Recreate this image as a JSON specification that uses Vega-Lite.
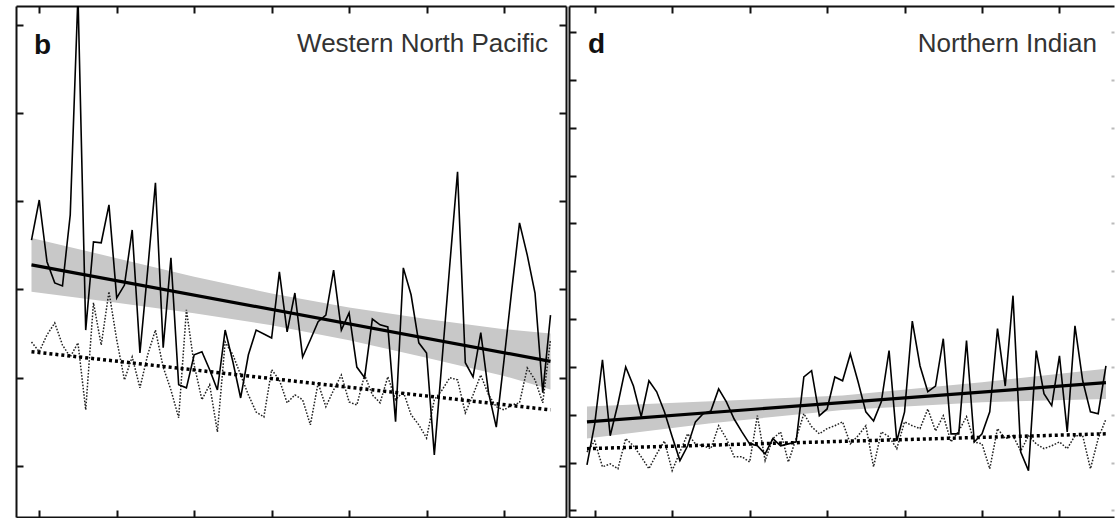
{
"$schema": "https://vega.github.io/schema/vega-lite/v6.json",
"padding": {"left": 15, "top": 5, "right": 0, "bottom": 0},
"spacing": 3,
"bounds": "flush",
"background": "white",
"datasets": {
"wnp": [
{"year":1949,"solid":19.12,"dotted":16.81},{"year":1950,"solid":20.03,"dotted":16.59},{"year":1951,"solid":18.63,"dotted":16.97},{"year":1952,"solid":18.15,"dotted":17.24},{"year":1953,"solid":18.08,"dotted":16.74},{"year":1954,"solid":19.69,"dotted":16.47},{"year":1955,"solid":24.68,"dotted":16.79},{"year":1956,"solid":17.08,"dotted":15.27},{"year":1957,"solid":19.08,"dotted":17.70},{"year":1958,"solid":19.06,"dotted":16.74},{"year":1959,"solid":19.92,"dotted":17.95},{"year":1960,"solid":17.81,"dotted":16.86},{"year":1961,"solid":18.10,"dotted":15.95},{"year":1962,"solid":19.35,"dotted":16.47},{"year":1963,"solid":16.56,"dotted":15.77},{"year":1964,"solid":18.44,"dotted":16.52},{"year":1965,"solid":20.42,"dotted":17.08},{"year":1966,"solid":16.68,"dotted":16.24},{"year":1967,"solid":18.72,"dotted":15.72},{"year":1968,"solid":15.84,"dotted":15.09},{"year":1969,"solid":15.77,"dotted":17.54},{"year":1970,"solid":16.52,"dotted":16.29},{"year":1971,"solid":16.59,"dotted":15.50},{"year":1972,"solid":16.18,"dotted":15.84},{"year":1973,"solid":15.72,"dotted":14.77},{"year":1974,"solid":17.08,"dotted":16.81},{"year":1975,"solid":16.36,"dotted":16.52},{"year":1976,"solid":15.54,"dotted":16.06},{"year":1977,"solid":16.52,"dotted":15.61},{"year":1978,"solid":17.08,"dotted":15.22},{"year":1979,"solid":16.99,"dotted":15.11},{"year":1980,"solid":16.90,"dotted":16.18},{"year":1981,"solid":18.40,"dotted":15.95},{"year":1982,"solid":17.04,"dotted":15.43},{"year":1983,"solid":17.92,"dotted":15.61},{"year":1984,"solid":16.47,"dotted":15.50},{"year":1985,"solid":16.86,"dotted":14.93},{"year":1986,"solid":17.27,"dotted":15.88},{"year":1987,"solid":17.42,"dotted":15.34},{"year":1988,"solid":18.44,"dotted":15.72},{"year":1989,"solid":17.08,"dotted":16.06},{"year":1990,"solid":17.47,"dotted":15.45},{"year":1991,"solid":16.24,"dotted":15.38},{"year":1992,"solid":16.00,"dotted":16.06},{"year":1993,"solid":17.33,"dotted":15.61},{"year":1994,"solid":17.20,"dotted":15.43},{"year":1995,"solid":17.15,"dotted":16.02},{"year":1996,"solid":15.00,"dotted":15.50},{"year":1997,"solid":18.49,"dotted":15.68},{"year":1998,"solid":17.88,"dotted":15.16},{"year":1999,"solid":16.79,"dotted":14.93},{"year":2000,"solid":16.56,"dotted":14.63},{"year":2001,"solid":14.25,"dotted":15.50},{"year":2002,"solid":16.40,"dotted":15.72},{"year":2003,"solid":18.56,"dotted":16.00},{"year":2004,"solid":20.67,"dotted":15.95},{"year":2005,"solid":16.34,"dotted":15.20},{"year":2006,"solid":16.02,"dotted":15.61},{"year":2007,"solid":17.02,"dotted":16.06},{"year":2008,"solid":15.66,"dotted":15.61},{"year":2009,"solid":14.88,"dotted":15.34},{"year":2010,"solid":16.40,"dotted":15.27},{"year":2011,"solid":17.99,"dotted":15.38},{"year":2012,"solid":19.51,"dotted":15.43},{"year":2013,"solid":18.78,"dotted":16.22},{"year":2014,"solid":17.92,"dotted":15.95},{"year":2015,"solid":15.66,"dotted":15.43},{"year":2016,"solid":17.42,"dotted":16.86}
],
"wnp_trend": [{"year":1949,"solid":18.56,"dotted":16.59},{"year":2016,"solid":16.37,"dotted":15.27}],
"wnp_band": [{"year":1949,"lo":17.95,"hi":19.17},{"year":1960,"lo":17.70,"hi":18.71},{"year":1970,"lo":17.46,"hi":18.29},{"year":1980,"lo":17.19,"hi":17.91},{"year":1990,"lo":16.85,"hi":17.59},{"year":2000,"lo":16.45,"hi":17.33},{"year":2010,"lo":16.04,"hi":17.10},{"year":2016,"lo":15.73,"hi":17.00}],
"ni": [
{"year":1949,"solid":10.95,"dotted":11.22},{"year":1950,"solid":11.81,"dotted":11.45},{"year":1951,"solid":13.15,"dotted":10.91},{"year":1952,"solid":11.56,"dotted":10.97},{"year":1953,"solid":12.23,"dotted":10.87},{"year":1954,"solid":13.00,"dotted":11.50},{"year":1955,"solid":12.60,"dotted":11.35},{"year":1956,"solid":11.96,"dotted":11.12},{"year":1957,"solid":12.71,"dotted":10.87},{"year":1958,"solid":12.48,"dotted":11.18},{"year":1959,"solid":12.06,"dotted":11.45},{"year":1960,"solid":11.54,"dotted":10.83},{"year":1961,"solid":11.04,"dotted":11.22},{"year":1962,"solid":11.35,"dotted":11.60},{"year":1963,"solid":11.85,"dotted":11.39},{"year":1964,"solid":12.02,"dotted":11.35},{"year":1965,"solid":12.08,"dotted":11.29},{"year":1966,"solid":12.54,"dotted":11.77},{"year":1967,"solid":12.27,"dotted":11.50},{"year":1968,"solid":11.91,"dotted":11.12},{"year":1969,"solid":11.64,"dotted":11.12},{"year":1970,"solid":11.39,"dotted":11.01},{"year":1971,"solid":11.35,"dotted":11.98},{"year":1972,"solid":11.18,"dotted":11.04},{"year":1973,"solid":11.50,"dotted":11.50},{"year":1974,"solid":11.35,"dotted":11.64},{"year":1975,"solid":11.39,"dotted":11.01},{"year":1976,"solid":11.43,"dotted":11.50},{"year":1977,"solid":12.79,"dotted":12.02},{"year":1978,"solid":12.92,"dotted":11.75},{"year":1979,"solid":11.98,"dotted":11.60},{"year":1980,"solid":12.12,"dotted":11.71},{"year":1981,"solid":12.79,"dotted":11.77},{"year":1982,"solid":12.71,"dotted":11.85},{"year":1983,"solid":13.27,"dotted":11.39},{"year":1984,"solid":12.69,"dotted":11.56},{"year":1985,"solid":12.06,"dotted":11.77},{"year":1986,"solid":11.87,"dotted":10.91},{"year":1987,"solid":12.27,"dotted":11.64},{"year":1988,"solid":13.34,"dotted":11.54},{"year":1989,"solid":11.45,"dotted":11.29},{"year":1990,"solid":12.06,"dotted":11.85},{"year":1991,"solid":13.96,"dotted":11.77},{"year":1992,"solid":13.02,"dotted":11.71},{"year":1993,"solid":12.48,"dotted":12.12},{"year":1994,"solid":12.60,"dotted":11.66},{"year":1995,"solid":13.59,"dotted":11.98},{"year":1996,"solid":11.60,"dotted":11.43},{"year":1997,"solid":11.60,"dotted":11.66},{"year":1998,"solid":13.55,"dotted":11.96},{"year":1999,"solid":11.43,"dotted":11.43},{"year":2000,"solid":11.60,"dotted":11.39},{"year":2001,"solid":12.06,"dotted":10.87},{"year":2002,"solid":13.80,"dotted":11.71},{"year":2003,"solid":12.60,"dotted":11.50},{"year":2004,"solid":14.49,"dotted":11.56},{"year":2005,"solid":11.22,"dotted":11.24},{"year":2006,"solid":10.83,"dotted":11.56},{"year":2007,"solid":13.34,"dotted":11.39},{"year":2008,"solid":12.44,"dotted":11.29},{"year":2009,"solid":12.19,"dotted":11.35},{"year":2010,"solid":13.23,"dotted":11.43},{"year":2011,"solid":11.64,"dotted":11.29},{"year":2012,"solid":13.86,"dotted":11.56},{"year":2013,"solid":12.71,"dotted":11.56},{"year":2014,"solid":12.06,"dotted":10.87},{"year":2015,"solid":12.02,"dotted":11.50},{"year":2016,"solid":13.02,"dotted":11.91}
],
"ni_trend": [{"year":1949,"solid":11.85,"dotted":11.29},{"year":2016,"solid":12.67,"dotted":11.60}],
"ni_band": [{"year":1949,"lo":11.50,"hi":12.17},{"year":1965,"lo":11.82,"hi":12.28},{"year":1982,"lo":12.10,"hi":12.40},{"year":2000,"lo":12.26,"hi":12.68},{"year":2016,"lo":12.33,"hi":12.96}]
},
"hconcat": [
{
"width": 550, "height": 511,
"resolve": {"axis": {"x": "independent", "y": "independent"}},
"layer": [
{"data": {"name": "wnp_band"}, "mark": {"type": "area", "color": "#c8c8c8", "opacity": 1},
 "encoding": {
  "x": {"field": "year", "type": "quantitative", "scale": {"domain": [1947, 2018], "nice": false, "zero": false}, "axis": {"orient": "bottom", "values": [1950,1960,1970,1980,1990,2000,2010]}},
  "y": {"field": "lo", "type": "quantitative", "scale": {"domain": [12.84, 24.43], "nice": false, "zero": false}, "axis": {"orient": "left", "values": [14,16,18,20,22,24]}},
  "y2": {"field": "hi"}}},
{"data": {"name": "wnp"}, "mark": {"type": "line", "color": "#222", "strokeWidth": 1.5, "strokeDash": [1.6, 1.6]},
 "encoding": {
  "x": {"field": "year", "type": "quantitative", "axis": {"orient": "top", "values": [1950,1960,1970,1980,1990,2000,2010]}},
  "y": {"field": "dotted", "type": "quantitative", "axis": {"orient": "right", "values": [14,16,18,20,22,24]}}}},
{"data": {"name": "wnp"}, "mark": {"type": "line", "color": "#000", "strokeWidth": 1.6, "clip": true},
 "encoding": {
  "x": {"field": "year", "type": "quantitative", "axis": null},
  "y": {"field": "solid", "type": "quantitative", "axis": null}}},
{"data": {"name": "wnp_trend"}, "mark": {"type": "line", "color": "#000", "strokeWidth": 3.2},
 "encoding": {
  "x": {"field": "year", "type": "quantitative", "axis": null},
  "y": {"field": "solid", "type": "quantitative", "axis": null}}},
{"data": {"name": "wnp_trend"}, "mark": {"type": "line", "color": "#000", "strokeWidth": 3.5, "strokeDash": [3, 3]},
 "encoding": {
  "x": {"field": "year", "type": "quantitative", "axis": null},
  "y": {"field": "dotted", "type": "quantitative", "axis": null}}},
{"data": {"values": [{"label": "b"}]}, "mark": {"type": "text", "align": "left", "baseline": "alphabetic", "font": "Liberation Sans", "fontSize": 28, "fontWeight": "bold", "color": "#111"},
 "encoding": {
  "x": {"datum": 1949.32, "type": "quantitative", "axis": null},
  "y": {"datum": 23.34, "type": "quantitative", "axis": null},
  "text": {"field": "label"}}},
{"data": {"values": [{"label": "Western North Pacific"}]}, "mark": {"type": "text", "align": "right", "baseline": "alphabetic", "font": "Liberation Sans", "fontSize": 26, "color": "#333"},
 "encoding": {
  "x": {"datum": 2015.68, "type": "quantitative", "axis": null},
  "y": {"datum": 23.39, "type": "quantitative", "axis": null},
  "text": {"field": "label"}}}
]
},
{
"width": 545, "height": 511,
"resolve": {"axis": {"x": "independent", "y": "independent"}},
"layer": [
{"data": {"name": "ni_band"}, "mark": {"type": "area", "color": "#c8c8c8", "opacity": 1},
 "encoding": {
  "x": {"field": "year", "type": "quantitative", "scale": {"domain": [1946.68, 2017.04], "nice": false, "zero": false}, "axis": {"orient": "bottom", "values": [1950,1960,1970,1980,1990,2000,2010]}},
  "y": {"field": "lo", "type": "quantitative", "scale": {"domain": [9.86, 20.55], "nice": false, "zero": false}, "axis": {"orient": "left", "values": [10,11,12,13,14,15,16,17,18,19,20]}},
  "y2": {"field": "hi"}}},
{"data": {"name": "ni"}, "mark": {"type": "line", "color": "#222", "strokeWidth": 1.5, "strokeDash": [1.6, 1.6]},
 "encoding": {
  "x": {"field": "year", "type": "quantitative", "axis": {"orient": "top", "values": [1950,1960,1970,1980,1990,2000,2010]}},
  "y": {"field": "dotted", "type": "quantitative", "axis": {"orient": "right", "domain": false, "values": [10,11,12,13,14,15,16,17,18,19,20], "tickColor": "#bbb", "tickSize": -3}}}},
{"data": {"name": "ni"}, "mark": {"type": "line", "color": "#000", "strokeWidth": 1.6},
 "encoding": {
  "x": {"field": "year", "type": "quantitative", "axis": null},
  "y": {"field": "solid", "type": "quantitative", "axis": null}}},
{"data": {"name": "ni_trend"}, "mark": {"type": "line", "color": "#000", "strokeWidth": 3.2},
 "encoding": {
  "x": {"field": "year", "type": "quantitative", "axis": null},
  "y": {"field": "solid", "type": "quantitative", "axis": null}}},
{"data": {"name": "ni_trend"}, "mark": {"type": "line", "color": "#000", "strokeWidth": 3.5, "strokeDash": [3, 3]},
 "encoding": {
  "x": {"field": "year", "type": "quantitative", "axis": null},
  "y": {"field": "dotted", "type": "quantitative", "axis": null}}},
{"data": {"values": [{"label": "d"}]}, "mark": {"type": "text", "align": "left", "baseline": "alphabetic", "font": "Liberation Sans", "fontSize": 28, "fontWeight": "bold", "color": "#111"},
 "encoding": {
  "x": {"datum": 1949.13, "type": "quantitative", "axis": null},
  "y": {"datum": 19.57, "type": "quantitative", "axis": null},
  "text": {"field": "label"}}},
{"data": {"values": [{"label": "Northern Indian"}]}, "mark": {"type": "text", "align": "right", "baseline": "alphabetic", "font": "Liberation Sans", "fontSize": 26, "color": "#333"},
 "encoding": {
  "x": {"datum": 2014.84, "type": "quantitative", "axis": null},
  "y": {"datum": 19.59, "type": "quantitative", "axis": null},
  "text": {"field": "label"}}}
]
}
],
"config": {
"view": {"stroke": null},
"axis": {"domain": true, "domainColor": "#111", "domainWidth": 2, "labels": false, "grid": false, "title": null, "ticks": true, "tickSize": -7, "tickWidth": 2, "tickColor": "#111"}
}
}
